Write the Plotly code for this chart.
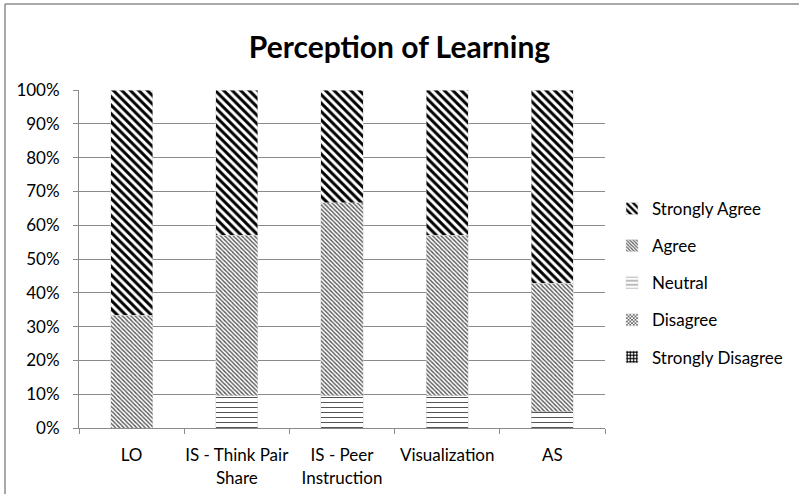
import plotly.graph_objects as go

categories = ["LO", "IS - Think Pair<br>Share", "IS - Peer<br>Instruction", "Visualization", "AS"]
strongly_disagree = [0, 0, 0, 0, 0]
disagree = [0, 0, 0, 0, 0]
neutral = [0, 9.5, 9.5, 9.5, 4.8]
agree = [33.3, 47.6, 57.1, 47.6, 38.1]
strongly_agree = [66.7, 42.9, 33.4, 42.9, 57.1]
y_ticks = [0, 10, 20, 30, 40, 50, 60, 70, 80, 90, 100]
y_tick_labels = [f"{v}%" for v in y_ticks]

FONT = "Lato, Carlito, 'Open Sans', sans-serif"

series = [
    ("Strongly Disagree", strongly_disagree, dict(shape="+", fgcolor="#000000", size=4, solidity=0.6), 5),
    ("Disagree", disagree, dict(shape="x", fgcolor="#444444", size=3, solidity=0.5), 4),
    ("Neutral", neutral, dict(shape="-", fgcolor="#555555", size=5, solidity=0.2), 3),
    ("Agree", agree, dict(shape="\\", fgcolor="#555555", size=3, solidity=0.45), 2),
    ("Strongly Agree", strongly_agree, dict(shape="\\", fgcolor="#000000", size=6, solidity=0.5), 1),
]

fig = go.Figure()
for i, (name, vals, pat, rank) in enumerate(series):
    fig.add_trace(go.Bar(
        x=categories, y=vals, name=name, legendgroup=f"g{i}", legendrank=rank,
        marker=dict(color="white",
                    pattern=dict(bgcolor="white", fillmode="replace", fgopacity=1, **pat),
                    line=dict(color="#d8d8d8", width=0.5)),
    ))

W, H = 799, 494
L, R, T, B = 79, 194, 90, 66
pw, ph = W - L - R, H - T - B

def px_x(x):
    return (x - L) / pw

def px_y(y):
    return (H - B - y) / ph

fig.update_layout(
    width=W, height=H, autosize=False,
    margin=dict(l=L, r=R, t=T, b=B, autoexpand=False),
    barmode="stack", bargap=0.6,
    paper_bgcolor="white", plot_bgcolor="white",
    font=dict(family=FONT, size=17, color="#000000"),
    title=dict(text="<b>Perception of Learning</b>", x=0.5, xanchor="center",
               y=1 - 47 / H, yanchor="middle", font=dict(size=30, family=FONT)),
    legend=dict(x=px_x(612), xanchor="left", y=px_y(283), yanchor="middle",
                traceorder="grouped", tracegroupgap=12,
                font=dict(size=17, family=FONT), bgcolor="rgba(0,0,0,0)"),
    showlegend=True,
    shapes=[
        dict(type="line", xref="paper", yref="paper", x0=px_x(5), x1=px_x(820),
             y0=px_y(4), y1=px_y(4), line=dict(color="#8c8c8c", width=1.5)),
        dict(type="line", xref="paper", yref="paper", x0=px_x(5), x1=px_x(5),
             y0=px_y(4), y1=px_y(520), line=dict(color="#8c8c8c", width=1.5)),
    ],
)
fig.update_yaxes(range=[0, 100], tickvals=y_ticks, ticktext=y_tick_labels,
                 showgrid=True, gridcolor="#8a8a8a", gridwidth=1,
                 showline=True, linecolor="#8a8a8a", linewidth=1,
                 ticks="outside", ticklen=5, tickcolor="#8a8a8a",
                 ticklabelstandoff=10, automargin=False,
                 zeroline=False, tickfont=dict(size=17))
fig.update_xaxes(showline=True, linecolor="#8a8a8a", linewidth=1,
                 ticks="outside", ticklen=5, tickcolor="#8a8a8a",
                 ticklabelstandoff=12, tickangle=0, automargin=False,
                 tickson="boundaries", showgrid=False, tickfont=dict(size=17))

fig.write_html("out.html", config={"displayModeBar": False},
               post_script="document.body.style.margin='0';")
